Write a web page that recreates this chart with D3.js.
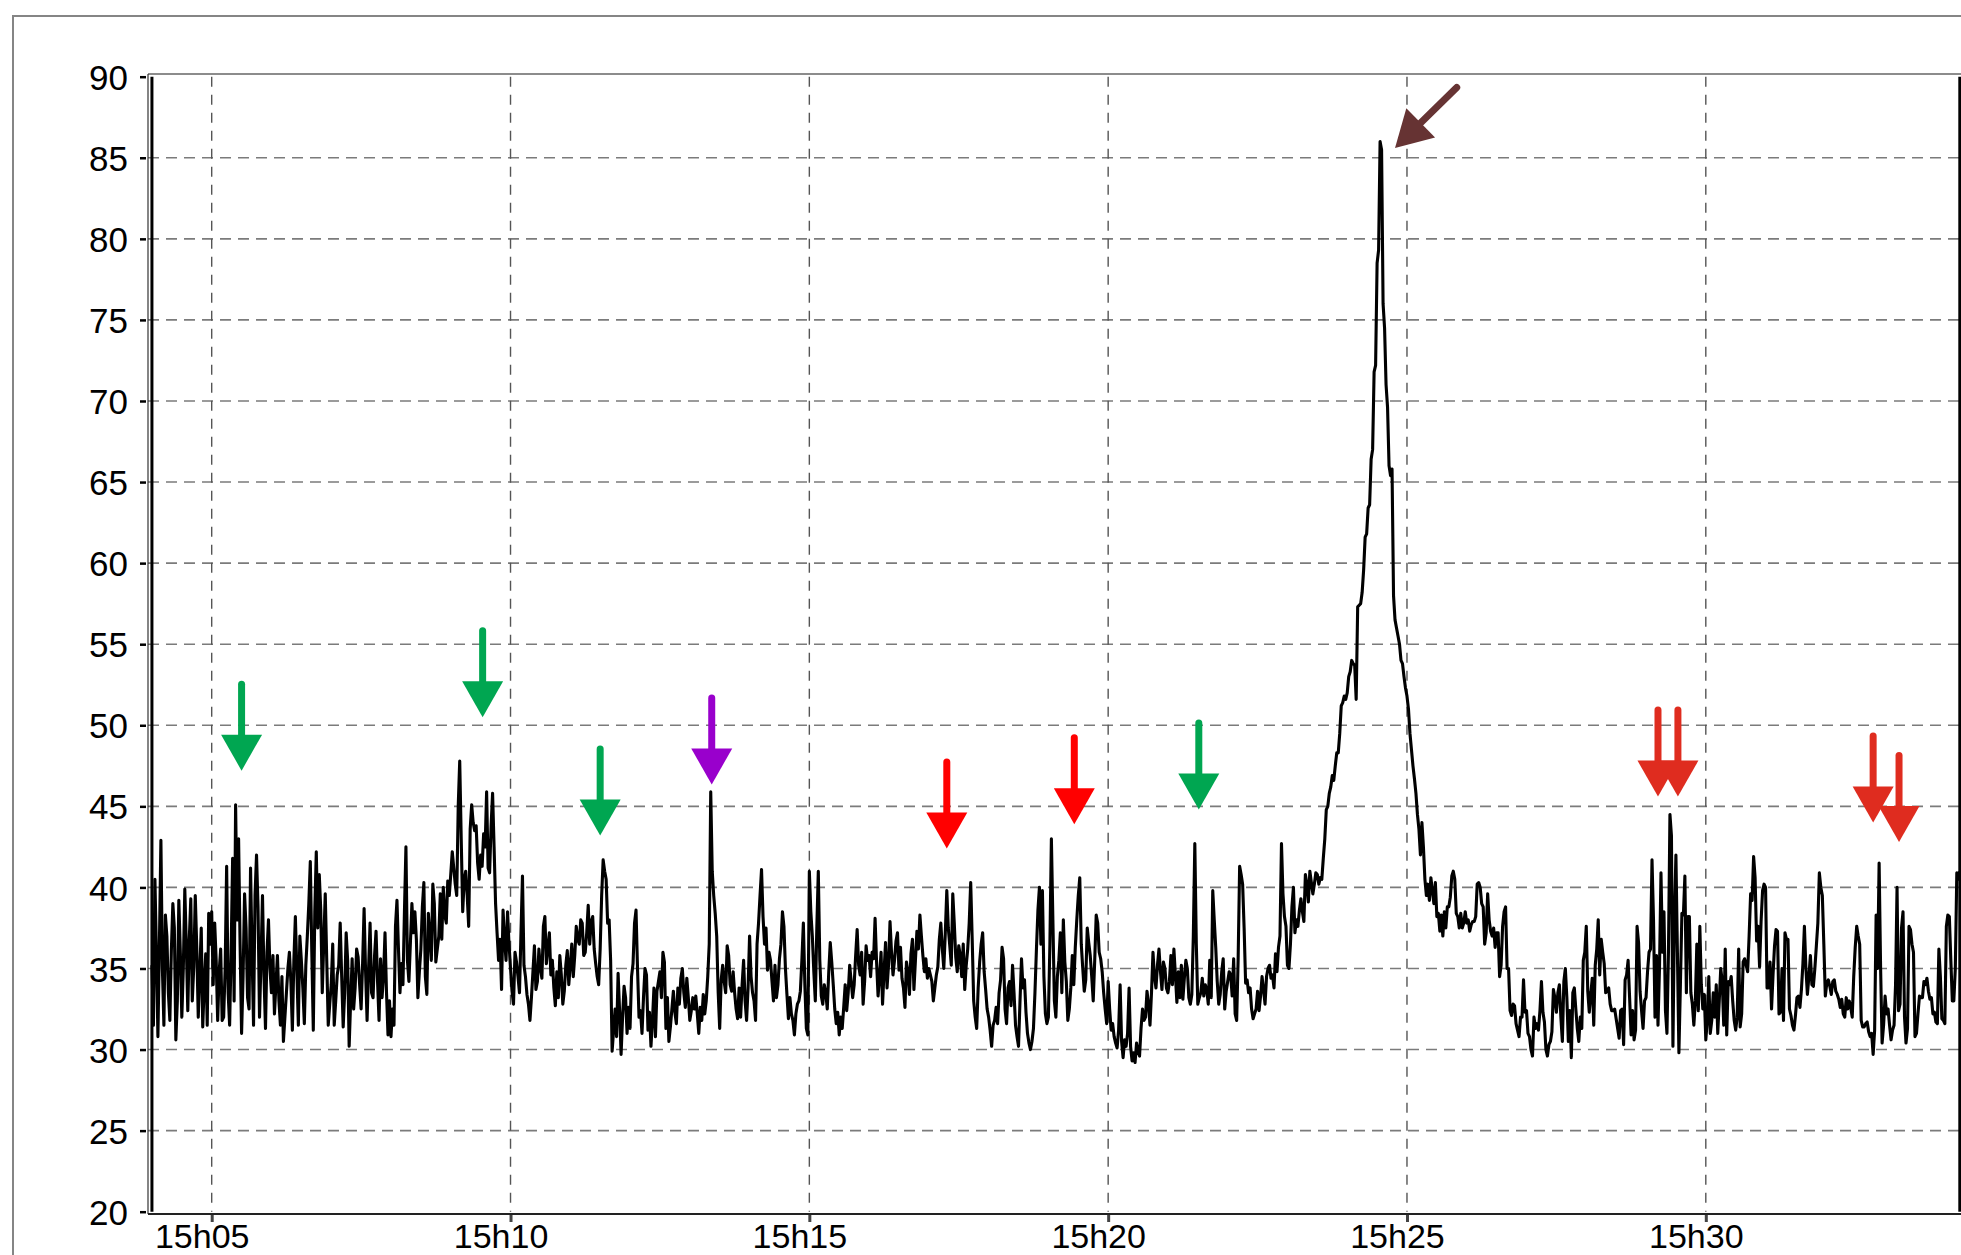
<!DOCTYPE html>
<html>
<head>
<meta charset="utf-8">
<script src="https://cdn.jsdelivr.net/npm/d3@7"></script>
<style>
  html, body { margin: 0; padding: 0; background: #fff; overflow: hidden; }
  svg { display: block; }
  text { font-family: "Liberation Sans", Arial, sans-serif; fill: #000; }
</style>
</head>
<body>
<svg id="chart" width="1961" height="1255"></svg>
<script>
// ---- data -------------------------------------------------------------
// Sound level readings (dB), one every 1.5 seconds starting at 15:04:00.
const seriesStart = "15:04:00";
const stepSeconds = 1.5;
const levels = [
  /* 15:04 */ 35.2,31.5, 40.5,36, 30.8,36.5, 42.9,35, 31.5,38.3, 37,33.5, 31.8,36.1, 39,37.5, 30.6,33, 39.2,36, 32,35, 39.9,36.5, 32.4,36.8, 39.3,33, 35.1,39.5, 36.3,32, 34.7,37.5, 31.4,34, 35.9,31.5, 38.4,36.5,
  /* 15:05 */ 38.5,34, 37.8,35.5, 31.8,34.8, 36.2,31.8, 32,35, 41.3,33.5, 31.5,36, 41.8,33, 45.1,38, 43,36.5, 31,34.5, 39.6,37.5, 33.2,32.5, 41.2,36, 31.5,39.5, 42,38.8, 32,35.5, 39.5,34.5, 31.3,36, 38,35,
  /* 15:06 */ 33.5,35.8, 32.2,34, 35.8,33, 31.5,34.5, 30.5,32, 33.5,35, 36,34.2, 31.2,35.5, 38.2,34.8, 31.5,37, 35.5,33.8, 31.6,35.2, 37,39, 41.6,36, 31.2,38.5, 42.2,37.5, 40.8,38.6, 33.5,36.6, 39.6,35.5, 31.5,32.8,
  /* 15:07 */ 34,36.5, 31.5,33, 34.6,35.2, 37.8,34.5, 31.4,33.5, 37.2,35.5, 30.2,33, 35.6,32.5, 33.8,36.2, 35.7,34, 32.5,35.3, 38.7,34.8, 31.8,35, 37.8,33.5, 33.2,35.8, 37.3,34.2, 31.8,35.6, 33.2,34.5, 37.2,33.5, 30.9,33,
  /* 15:08 */ 30.8,32.5, 31.5,37.6, 39.2,36.2, 33.5,35.3, 34,38.5, 42.5,35.5, 34.2,36.6, 39,37.2, 38.5,36.8, 33.2,34.8, 36.2,38.8, 40.3,34.5, 33.4,38.4, 37,35.5, 40.2,39, 35.4,36.2, 37,39.6, 36.8,40, 38.3,37.8, 40.4,39.5,
  /* 15:09 */ 40.8,42.2, 41.2,40.2, 39.5,45, 47.8,43, 38.5,40.5, 41,39.5, 37.6,43.6, 45.1,44, 43.5,43.8, 41.5,40.5, 42,41.3, 43.3,42.5, 45.9,41.2, 40.9,43.8, 45.8,42.5, 39,37.2, 35.5,36.8, 33.7,38.6, 36.8,35.5, 38.5,36.5,
  /* 15:10 */ 35,33.6, 32.8,36, 35.4,34.5, 33.5,37.2, 40.7,35.2, 34.5,33.4, 32.8,31.8, 33.2,34.8, 36.4,33.7, 34.2,36.2, 35,34.4, 37.6,38.2, 35.3,36.3, 37.2,34.6, 35.5,33.8, 32.7,34.8, 33.2,35.8, 34.6,32.8, 33.6,35.2, 36.1,34,
  /* 15:11 */ 35.2,36.5, 34.5,35.8, 37.6,36.8, 36.5,38, 37.8,35.8, 36,37.2, 38.9,36.5, 37.9,38.2, 36.2,35.3, 34.5,34, 36.2,39.5, 41.7,41, 40.5,37.8, 38,35.5, 29.9,31.2, 32.5,30.8, 34.7,32.4, 29.7,32, 33.9,33.2, 31,32.6,
  /* 15:12 */ 31.3,34.5, 35.3,37.8, 38.6,35, 32,32.4, 31,33.2, 35,34.6, 31.2,32.3, 30.2,31.8, 33.8,30.8, 33.6,34.2, 34.8,33.2, 36,35.4, 31.3,33.2, 30.5,31.4, 32.5,33.6, 32.3,31.6, 33.8,32.8, 34.4,35, 33.5,32.6, 34.4,33.2,
  /* 15:13 */ 31.8,32.4, 33.2,32.5, 33.3,32.2, 31,32.6, 31.8,33.4, 32.2,33, 34.5,36.5, 45.9,41, 39.5,38.4, 37,33.5, 31.3,34.3, 35.2,34.2, 33.5,36.4, 35.8,34, 33.6,34.8, 33.5,32.5, 31.9,33.8, 32,34, 35.5,33, 31.8,33.8,
  /* 15:14 */ 37,34.5, 33.5,33, 31.8,36.5, 37.8,39.5, 41.1,38.2, 36.5,37.5, 34.9,36, 35.5,34.2, 33,35.2, 33.2,34, 35.6,36.5, 38.5,37.6, 35,33.4, 31.9,33.2, 32.2,31.8, 30.9,32.2, 32.8,33, 33.6,35.5, 37.8,34, 31.3,30.9,
  /* 15:15 */ 41,38.5, 37,34.8, 33,37.5, 41,35.5, 33.3,32.8, 34,33.5, 32.5,34.8, 36.6,35.4, 34,32.5, 31.6,32.3, 30.9,32, 31.3,32.6, 34,32.4, 33.5,35.2, 34.2,33.2, 34,35.8, 37.4,35.2, 34.6,36, 32.8,34.2, 36.4,35.5,
  /* 15:16 */ 35.8,34.5, 36,35.6, 38.1,35.4, 33.3,34.5, 36,32.8, 34.8,36.6, 33.8,35.2, 37.9,36, 34.6,35.5, 36.7,37.2, 34.9,36.3, 34.4,33.8, 32.6,35.4, 34.8,33.4, 35.9,36.8, 33.7,35.5, 37.3,36.2, 38.3,37, 35.8,34.8, 35.6,34.4,
  /* 15:17 */ 35,34.6, 34.2,33, 33.8,34.6, 35.1,36.8, 37.8,36.2, 35,37.2, 39.8,37.5, 36.4,35.2, 39.6,37.8, 35.7,34.8, 36.4,35.8, 34.5,36.5, 33.7,35.2, 36.2,37.8, 40.3,36.8, 33,32, 31.3,33.8, 35.4,36.5, 37.2,34.8, 33.7,32.5,
  /* 15:18 */ 32,31.2, 30.2,31.5, 31.8,32.6, 31.6,33.5, 34.3,36.3, 35.6,32.5, 31.6,33.8, 34.2,32.7, 35.2,33.5, 31.5,30.8, 30.2,33, 35.6,33.8, 34.3,32.3, 31,30.4, 30,30.5, 31.3,33.5, 36.2,38.6, 40,36.5, 39.8,34.5, 32.2,31.6,
  /* 15:19 */ 32,36.5, 43,38, 33,32, 34.5,35.5, 37.2,33.5, 38,35.4, 34.2,31.8, 32.5,33.8, 35.8,34, 36.3,38, 39.5,40.6, 36.5,35, 33.6,34.3, 37.5,36.6, 35.8,34.5, 33,35.5, 38.3,37.8, 36,35.6, 34.8,33.5, 32.5,31.6,
  /* 15:20 */ 34.2,32.5, 31.2,31.6, 30.8,30.4, 30.1,31.2, 34,30.5, 29.5,30.6, 30.2,31, 33.8,30.2, 29.3,29.8, 29.2,30.4, 29.9,29.6, 31.3,32.5, 31.8,32, 33.6,32.8, 31.5,33.5, 36,34.5, 33.8,35.2, 36.2,34.8, 33.7,35.4, 35,33.8,
  /* 15:21 */ 33.5,34.2, 35.8,34, 36.2,34.6, 32.9,34.8, 33.2,35.2, 33.1,34.4, 35.5,35, 33.2,32.8, 33.4,37, 42.7,36.5, 32.8,33.2, 33.5,34.4, 33.3,34, 33.7,32.8, 35.5,33.2, 39.8,38, 36.3,34.2, 32.8,33.4, 34.8,35.6, 32.5,33.6,
  /* 15:22 */ 34.2,34.8, 34.6,33.3, 35.6,32.2, 31.8,35.6, 41.3,40.8, 40.2,37.5, 34.1,34.3, 33.5,33.8, 32.5,31.9, 32.2,32.5, 33.6,32.4, 33.3,34.5, 33.7,32.8, 34.5,35, 35.2,34.4, 34.6,33.8, 35.9,34.8, 36.3,37, 42.7,39.6, 38.2,37.6,
  /* 15:23 */ 35.2,35, 36.5,38.8, 40,37.2, 38,37.6, 38.6,39.3, 38.5,37.9, 40.8,40.2, 39.1,41, 40.3,39.6, 40.2,40.9, 40.8,40.2, 40.6,40.5, 41.8,43, 44.8,45, 45.8,46.2, 46.9,46.6, 47.5,48.3, 48.3,49.5, 51.2,51.4, 51.8,51.6,
  /* 15:24 */ 52,53, 53.3,54, 53.8,53.7, 51.6,57.3, 57.4,57.5, 58.2,59.6, 61.6,61.8, 63.4,63.6, 66.4,67, 71.8,72.2, 78.5,79.3, 86,85.5, 76,74.5, 71,69.6, 66,65.4, 65.8,58, 56.5,56, 55.5,55, 54,53.8, 53,52.3,
  /* 15:25 */ 51.8,51, 49.5,48.5, 47.5,46.7, 45.8,44.5, 43.6,42, 44,42.5, 40.5,39.5, 40.2,39.2, 40.6,39.8, 39,40.3, 38.2,38.4, 37.3,38.3, 37,38.5, 37.5,38.8, 38.8,39.4, 40.7,41, 40.5,38.4, 38.2,37.5, 38.4,37.5, 37.8,38.5,
  /* 15:26 */ 37.8,38, 37.3,37.7, 37.9,37.9, 38.2,40.2, 40.3,40, 39,38.8, 36.5,37.2, 39.6,38, 37.3,37, 37.5,36.3, 37.2,37.2, 34.5,35.2, 37.6,38.5, 38.8,35, 35,32.4, 32.1,32.8, 32.7,31.6, 31.2,30.8, 32,32, 34.3,32.3,
  /* 15:27 */ 32.4,31, 30.8,30, 29.6,32, 31.3,31.6, 31.2,32.4, 34.2,32.3, 31.7,30, 29.6,30.3, 30.5,31.1, 33.7,33.2, 32.3,33.5, 34,32, 30.5,34.2, 35,33.2, 30.5,32.4, 29.5,33.5, 33.8,32.5, 31.3,30.5, 32,31.3, 35.5,36,
  /* 15:28 */ 37.6,33.6, 32.3,33.4, 34.4,31.5, 35.2,36.2, 38,34.6, 36.8,36, 35.3,33.5, 33.6,33.8, 32.8,32.4, 32.4,32.5, 31.9,31.3, 30.7,32.4, 32.5,30.3, 34.3,34.6, 35.5,33.2, 30.9,32.4, 30.6,31.2, 37.6,36.6, 33.6,32.4, 31.3,33,
  /* 15:29 */ 33.2,34.8, 36,36.2, 41.7,38, 32,35.8, 31.5,35, 40.9,36, 38.5,32.4, 31,36, 44.5,43.2, 30.2,38, 42,36, 29.8,34, 38.4,38.3, 40.7,33.5, 38.2,38.2, 33.5,32.8, 31.5,33, 36.5,32.4, 37.6,34, 32.5,33.4,
  /* 15:30 */ 30.6,31.8, 34.5,31, 31.8,33.5, 32,34, 31,33, 35,34.2, 31.5,36.2, 30.9,34.2, 34,34.5, 33,31.8, 31.2,32, 36.2,31.4, 32.2,35.4, 35.6,35.2, 34.8,37, 39.6,39.2, 41.9,40.6, 36.7,37.6, 35.1,37.9, 39.8,40.2,
  /* 15:31 */ 40,33.8, 33.8,35.4, 32.5,34.6, 36.4,37.4, 37.3,32.2, 32.3,35, 31.8,37.2, 36.8,36.8, 32.5,32.1, 31.5,31.2, 32.1,33.2, 33.3,32.6, 33.7,35.3, 37.6,35, 33.4,34.5, 35.8,34, 33.9,35, 36.4,37.8, 40.9,40, 39.5,36.5,
  /* 15:32 */ 33.3,34.1, 34.3,33.9, 33.4,34.2, 34.3,33.6, 33.4,33.1, 32.6,33.1, 32.2,32, 33.2,32.5, 33,32.6, 32,34.5, 36.3,37.6, 37,36.5, 31.8,31.4, 31.4,31.6, 31.7,31.1, 30.8,31, 29.7,31.2, 38.3,35, 41.5,35, 30.4,31.5,
  /* 15:33 */ 33.3,32.2, 32.5,31.5, 30.6,31.2, 31.5,34, 40,32.4, 32.8,37.5, 38.5,32, 30.4,31.3, 37.6,37.4, 36.5,36, 30.8,31, 32.2,33.3, 33.2,33.2, 34.2,34, 34.4,33.6, 33.1,33.2, 32.2,32.3, 31.7,31.6, 36.2,34.5, 31.9,31.8,
  /* 15:34 */ 31.6,37.6, 38.3,38.2, 35.5,33, 33,35, 40.9,40.5, 41
];

// Axis ticks
const yTicks = [20, 25, 30, 35, 40, 45, 50, 55, 60, 65, 70, 75, 80, 85, 90];
const xTickTimes = ["15:05:00", "15:10:00", "15:15:00", "15:20:00", "15:25:00", "15:30:00"];

// Event markers: arrow tip time and level, and the kind of event
const markerTimes  = ["15:05:30", "15:09:32", "15:11:30", "15:13:22", "15:17:18", "15:19:26",
                      "15:21:31", "15:29:12", "15:29:32", "15:32:48", "15:33:14", "15:24:48"];
const markerLevels = [47.2, 50.5, 43.2, 46.35, 42.4, 43.9, 44.8, 45.6, 45.6, 44.0, 42.8, 85.6];
const markerKinds  = ["green", "green", "green", "purple", "red", "red",
                      "green", "crimson", "crimson", "crimson", "crimson", "peak"];

// ---- styles -----------------------------------------------------------
const kindColour = {
  green: "#00a651", purple: "#9900cc", red: "#ff0000", crimson: "#df2c1f", peak: "#663333"
};
const kindTilt = { peak: 45.5 };

// ---- scales -----------------------------------------------------------
const parseTime = d3.timeParse("%H:%M:%S");
const x = d3.scaleTime()
  .domain([parseTime("15:05:00"), parseTime("15:30:00")])
  .range([211.7, 1705.8]);
const y = d3.scaleLinear().domain([20, 90]).range([1211.7, 76.7]);

const t0 = parseTime(seriesStart);
const series = levels.map((v, i) => ({ t: new Date(t0.getTime() + i * stepSeconds * 1000), v }));

const svg = d3.select("#chart");
const plotLeft = 148, plotTop = 74, plotBottom = 1214, plotRight = 1961;
const labelFont = '"Liberation Sans", Arial, sans-serif';

// outer frame
svg.append("path")
  .attr("d", `M13,1256 V16 H1962`)
  .attr("fill", "none").attr("stroke", "#858585").attr("stroke-width", 2);

// horizontal grid
svg.append("g").selectAll("line")
  .data(yTicks.filter(v => v > 20 && v < 90))
  .join("line")
  .attr("x1", plotLeft).attr("x2", plotRight)
  .attr("y1", d => y(d)).attr("y2", d => y(d))
  .attr("stroke", "#7b7b7b").attr("stroke-width", 1.6)
  .attr("stroke-dasharray", "11,7");

// vertical grid
svg.append("g").selectAll("line")
  .data(xTickTimes.map(parseTime))
  .join("line")
  .attr("x1", d => x(d)).attr("x2", d => x(d))
  .attr("y1", y(90)).attr("y2", y(20))
  .attr("stroke", "#555").attr("stroke-width", 1.4)
  .attr("stroke-dasharray", "10,8");

// plot borders
svg.append("line").attr("x1", plotLeft).attr("x2", plotRight)
  .attr("y1", plotTop).attr("y2", plotTop)
  .attr("stroke", "#8c8c8c").attr("stroke-width", 2);
svg.append("line").attr("x1", plotLeft).attr("x2", plotLeft)
  .attr("y1", plotTop).attr("y2", plotBottom)
  .attr("stroke", "#333").attr("stroke-width", 1.2);
svg.append("line").attr("x1", plotLeft).attr("x2", plotRight)
  .attr("y1", plotBottom).attr("y2", plotBottom)
  .attr("stroke", "#222").attr("stroke-width", 2);

// y axis
const yAxis = svg.append("g")
  .attr("transform", `translate(146,0)`)
  .call(d3.axisLeft(y).tickValues(yTicks).tickSize(6).tickPadding(12).tickFormat(d3.format("d")));
yAxis.select(".domain").remove();
yAxis.selectAll(".tick line").attr("stroke", "#000").attr("stroke-width", 2.5);
yAxis.selectAll(".tick text")
  .attr("font-size", 35).attr("dy", "0.36em")
  .style("font-family", labelFont);

// x axis
const xAxis = svg.append("g")
  .attr("transform", `translate(0,${plotBottom})`)
  .call(d3.axisBottom(x).tickValues(xTickTimes.map(parseTime)).tickSize(8).tickPadding(2)
    .tickFormat(d3.timeFormat("%Hh%M")));
xAxis.select(".domain").remove();
xAxis.selectAll(".tick line").attr("stroke", "#444").attr("stroke-width", 3).attr("y1", 1);
xAxis.selectAll(".tick text")
  .attr("font-size", 34).attr("x", -10)
  .style("font-family", labelFont);

// recording window bounds
svg.append("g").selectAll("line")
  .data([series[0].t, series[series.length - 1].t])
  .join("line")
  .attr("x1", d => x(d)).attr("x2", d => x(d))
  .attr("y1", y(90)).attr("y2", y(20))
  .attr("stroke", "#000").attr("stroke-width", 3);

// level trace
svg.append("path")
  .datum(series)
  .attr("fill", "none")
  .attr("stroke", "#000")
  .attr("stroke-width", 3.1)
  .attr("stroke-linejoin", "round")
  .attr("d", d3.line().x(d => x(d.t)).y(d => y(d.v)));

// event arrows (tip at the marked time/level)
const markers = markerTimes.map((t, i) => ({ t: parseTime(t), v: markerLevels[i], kind: markerKinds[i] }));
const arrowLen = 90, headLen = 36, headHalf = 20.5, shaft = 7;
const arrows = svg.append("g").selectAll("g")
  .data(markers)
  .join("g")
  .attr("transform", d => `translate(${x(d.t)},${y(d.v)}) rotate(${kindTilt[d.kind] || 0})`);
arrows.append("line")
  .attr("x1", 0).attr("x2", 0)
  .attr("y1", -arrowLen + shaft / 2).attr("y2", -headLen + 2)
  .attr("stroke", d => kindColour[d.kind])
  .attr("stroke-width", shaft).attr("stroke-linecap", "round");
arrows.append("path")
  .attr("d", `M${-headHalf},${-headLen} L${headHalf},${-headLen} L0,0 Z`)
  .attr("fill", d => kindColour[d.kind]);
</script>
</body>
</html>
